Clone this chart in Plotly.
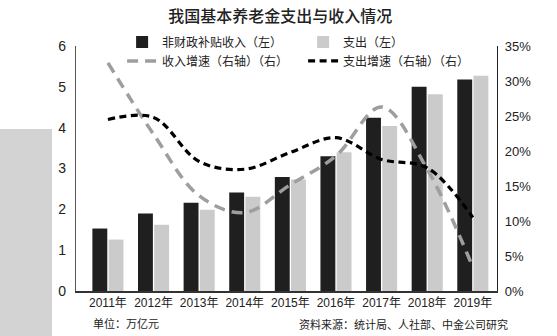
import plotly.graph_objects as go

years = ["2011年", "2012年", "2013年", "2014年", "2015年", "2016年", "2017年", "2018年", "2019年"]
income = [1.53, 1.90, 2.16, 2.41, 2.79, 3.30, 4.24, 5.00, 5.18]
expense = [1.26, 1.62, 1.99, 2.31, 2.73, 3.40, 4.04, 4.82, 5.27]
income_growth = [32.6, 22.4, 13.6, 11.2, 15.2, 19.3, 26.3, 17.4, 3.4]
expense_growth = [24.5, 24.8, 18.5, 17.4, 19.8, 21.9, 18.8, 17.6, 10.5]
left_ticks = [0, 1, 2, 3, 4, 5, 6]
right_ticks = [0, 5, 10, 15, 20, 25, 30, 35]
right_labels = ["0%", "5%", "10%", "15%", "20%", "25%", "30%", "35%"]

CJK = "Noto Sans CJK SC"
NUM = "Liberation Sans, Arial, Noto Sans CJK SC"

fig = go.Figure()
fig.add_trace(go.Bar(x=years, y=income, name="非财政补贴收入（左）",
                     marker=dict(color="#1f1f1f", line=dict(width=0))))
fig.add_trace(go.Bar(x=years, y=expense, name="支出（左）",
                     marker=dict(color="#cbcbcb", line=dict(width=0))))
fig.add_trace(go.Scatter(x=years, y=income_growth, name="收入增速（右轴）（右）", yaxis="y2",
                         mode="lines", line=dict(color="#9e9e9e", width=3.5, dash="11px,7px",
                                                 shape="spline", smoothing=1.0)))
fig.add_trace(go.Scatter(x=years, y=expense_growth, name="支出增速（右轴）（右）", yaxis="y2",
                         mode="lines", line=dict(color="#000000", width=3.2, dash="7px,4.5px",
                                                 shape="spline", smoothing=1.0)))

fig.update_layout(
    width=557, height=336,
    margin=dict(l=76, r=60, t=46, b=45),
    paper_bgcolor="white", plot_bgcolor="white",
    barmode="group", bargap=0.29, bargroupgap=0.08,
    showlegend=True,
    legend=dict(orientation="h", x=0.1095, y=1.076, xanchor="left", yanchor="top",
                entrywidth=136, entrywidthmode="pixels",
                font=dict(family=CJK, size=12, color="#222"),
                bgcolor="rgba(0,0,0,0)", tracegroupgap=0, itemwidth=30),
    xaxis=dict(type="category", range=[-0.7, 8.53], showgrid=False, zeroline=False,
               showline=True, linecolor="#333", linewidth=1.5, ticks="",
               tickfont=dict(family=NUM, size=12, color="#222"), fixedrange=True),
    yaxis=dict(range=[0, 6], tickvals=left_ticks, showgrid=False, zeroline=False,
               showline=True, linecolor="#555", linewidth=1.2, ticks="",
               ticklabelstandoff=6,
               tickfont=dict(family=NUM, size=14, color="#222")),
    yaxis2=dict(range=[0, 35], tickvals=right_ticks, ticktext=right_labels, overlaying="y",
                side="right", showgrid=False, zeroline=False, showline=True,
                linecolor="#222", linewidth=1.2, ticks="", ticklabelstandoff=4,
                tickfont=dict(family=NUM, size=13, color="#222")),
    title=dict(text="我国基本养老金支出与收入情况", x=0.503, xanchor="center", y=0.952,
               yanchor="middle", font=dict(family=CJK, size=16, color="#222", weight=500)),
    shapes=[dict(type="rect", xref="paper", yref="paper", x0=-76/421, x1=-24/421,
                 y0=-45/245, y1=(291-129)/245, fillcolor="#d3d3d3", line=dict(width=0),
                 layer="below")],
    annotations=[
        dict(text="单位：万亿元", xref="paper", yref="paper", x=(91-76)/421, y=-(323-291)/245,
             xanchor="left", yanchor="middle", showarrow=False,
             font=dict(family=CJK, size=11, color="#222")),
        dict(text="资料来源：统计局、人社部、中金公司研究", xref="paper", yref="paper",
             x=(510-76)/421, y=-(324-291)/245, xanchor="right", yanchor="middle",
             showarrow=False, font=dict(family=CJK, size=11, color="#222")),
    ],
)

fig.write_html("out.html")
